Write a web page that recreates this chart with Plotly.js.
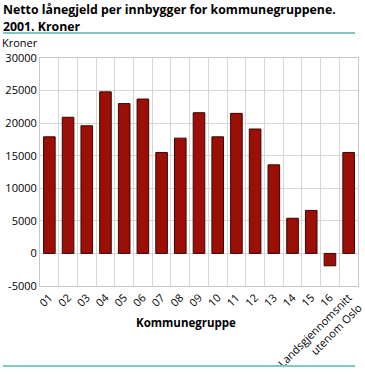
<!DOCTYPE html>
<html><head><meta charset="utf-8">
<script src="https://cdn.plot.ly/plotly-3.0.1.min.js"></script>
<style>html,body{margin:0;padding:0;background:#fff;}#chart{width:365px;height:374px;}</style>
</head><body><div id="chart"></div>
<script>
const categories = ["01","02","03","04","05","06","07","08","09","10","11","12","13","14","15","16","Landsgjennomsnitt<br>utenom Oslo"];
const values = [17900,20900,19600,24800,23000,23700,15500,17700,21600,17900,21500,19100,13600,5400,6600,-1900,15500];
const yTicks = [-5000,0,5000,10000,15000,20000,25000,30000];

const font = "Open Sans, DejaVu Sans, sans-serif";
const M = {l: 40, r: 7, t: 58, b: 88};
const plotH = 374 - M.t - M.b;
const plotW = 365 - M.l - M.r;
const px = x => (x - M.l) / plotW;          // pixel x -> paper
const py = y => (374 - M.b - y) / plotH;    // pixel y -> paper

Plotly.newPlot("chart", [{
  type: "bar",
  x: categories,
  y: values,
  width: 0.62,
  marker: {color: "#9b0f07", line: {color: "#3a0603", width: 1}},
  hoverinfo: "none"
}], {
  width: 365, height: 374,
  margin: M,
  paper_bgcolor: "#fff", plot_bgcolor: "#fff",
  showlegend: false,
  font: {family: font, size: 11, color: "#000"},
  xaxis: {
    type: "category",
    tickson: "boundaries",
    showgrid: true, gridcolor: "#d6d6d6", gridwidth: 1,
    ticks: "", tickangle: -45,
    tickfont: {size: 11},
    showline: true, linecolor: "#c8c8c8", mirror: true,
    range: [-0.5, 16.5]
  },
  yaxis: {
    range: [-5000, 30000],
    tickvals: yTicks,
    ticktext: yTicks.map(String),
    showgrid: true, gridcolor: "#d6d6d6", gridwidth: 1,
    zeroline: false,
    showline: true, linecolor: "#c8c8c8", mirror: true,
    ticks: "", tickfont: {size: 11}
  },
  annotations: [
    {text: "<b>Netto lånegjeld per innbygger for kommunegruppene.</b>", xref: "paper", yref: "paper", x: px(2), xanchor: "left", y: py(9.5), yanchor: "middle", showarrow: false, borderpad: 0, font: {size: 12.3, family: font}},
    {text: "<b>2001. Kroner</b>", xref: "paper", yref: "paper", x: px(2), xanchor: "left", y: py(26), yanchor: "middle", showarrow: false, borderpad: 0, font: {size: 12.3, family: font}},
    {text: "Kroner", xref: "paper", yref: "paper", x: px(1), xanchor: "left", y: py(42.5), yanchor: "middle", showarrow: false, borderpad: 0, font: {size: 11}},
    {text: "<b>Kommunegruppe</b>", xref: "paper", yref: "paper", x: px(186), xanchor: "center", y: py(322), yanchor: "middle", showarrow: false, font: {size: 11.5}}
  ],
  shapes: [
    {type: "line", xref: "paper", yref: "paper", x0: px(3), x1: px(355), y0: py(33), y1: py(33), line: {color: "#7fc6c6", width: 2}},
    {type: "line", xref: "paper", yref: "paper", x0: px(3), x1: px(355), y0: py(366), y1: py(366), line: {color: "#7fc6c6", width: 2}}
  ]
}, {displayModeBar: false, staticPlot: true});
</script></body></html>
